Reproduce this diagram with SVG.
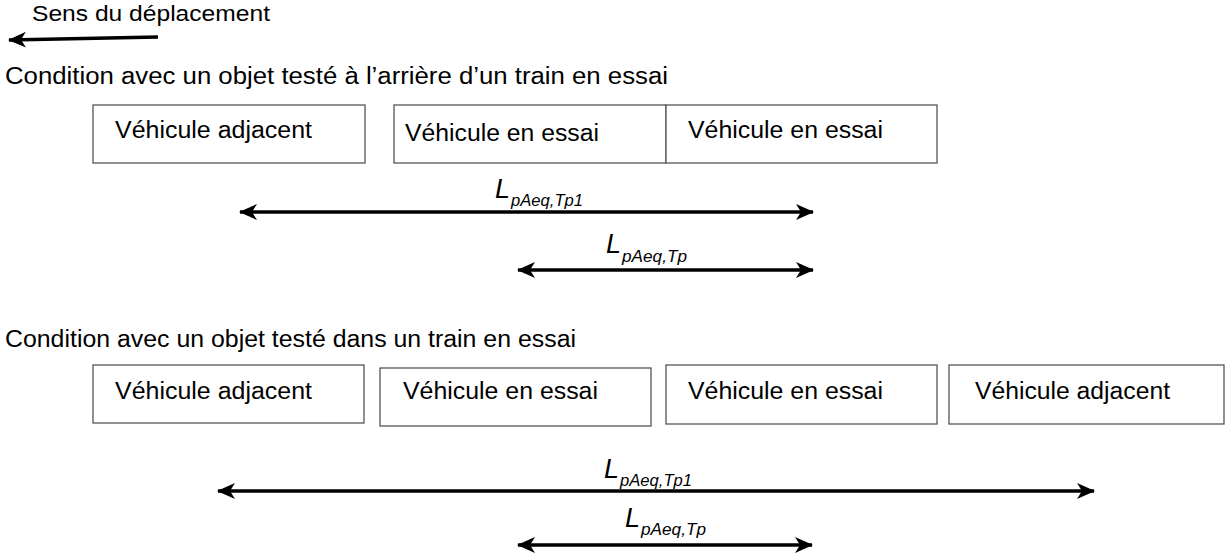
<svg xmlns="http://www.w3.org/2000/svg" width="1231" height="557" viewBox="0 0 1231 557">
<style>
text{font-family:"Liberation Sans",Arial,sans-serif;fill:#000}
.h{font-size:23px}
.b{font-size:23px}
.L{font-size:27px;font-style:italic}
.s{font-size:16px;font-style:italic}
rect{fill:#fff;stroke:#555;stroke-width:1.3}
.ar{stroke:#000;stroke-width:3.5;fill:none}
</style>
<defs>
<marker id="ah" markerUnits="userSpaceOnUse" markerWidth="20" markerHeight="20" refX="17" refY="10" orient="auto-start-reverse">
<path d="M0,2 L18,10 L0,18 L5,10 Z" fill="#000"/>
</marker>
</defs>
<rect x="0" y="0" width="1231" height="557" style="fill:#fff;stroke:none"/>
<text x="32" y="21" style="font-size:22px" textLength="238" lengthAdjust="spacingAndGlyphs">Sens du déplacement</text>
<text class="h" x="5" y="84" textLength="663" lengthAdjust="spacingAndGlyphs">Condition avec un objet testé à l’arrière d’un train en essai</text>
<text class="h" x="5" y="347" textLength="571" lengthAdjust="spacingAndGlyphs">Condition avec un objet testé dans un train en essai</text>
<g id="r1v1"><rect x="93" y="105" width="272" height="58"/><text class="b" x="115" y="138" textLength="197" lengthAdjust="spacingAndGlyphs">Véhicule adjacent</text></g>
<g id="r1v2"><rect x="394" y="105" width="272" height="58"/><text class="b" x="405" y="141" textLength="194" lengthAdjust="spacingAndGlyphs">Véhicule en essai</text></g>
<g id="r1v3"><rect x="666" y="105" width="271" height="58"/><text class="b" x="688" y="138" textLength="195" lengthAdjust="spacingAndGlyphs">Véhicule en essai</text></g>
<g id="r2v1"><rect x="93" y="365" width="271" height="58"/><text class="b" x="115" y="399" textLength="197" lengthAdjust="spacingAndGlyphs">Véhicule adjacent</text></g>
<g id="r2v2"><rect x="380" y="368" width="271" height="58"/><text class="b" x="403" y="399" textLength="195" lengthAdjust="spacingAndGlyphs">Véhicule en essai</text></g>
<g id="r2v3"><rect x="666" y="365" width="271" height="59"/><text class="b" x="688" y="399" textLength="195" lengthAdjust="spacingAndGlyphs">Véhicule en essai</text></g>
<g id="r2v4"><rect x="949" y="365" width="275" height="59"/><text class="b" x="975" y="399" textLength="195" lengthAdjust="spacingAndGlyphs">Véhicule adjacent</text></g>
<g id="connectors">
<path class="ar" d="M158,37 L9,40" marker-end="url(#ah)"/>
<path class="ar" d="M240,212 L813,212" marker-start="url(#ah)" marker-end="url(#ah)"/>
<path class="ar" d="M518,270 L813,270" marker-start="url(#ah)" marker-end="url(#ah)"/>
<path class="ar" d="M218,491 L1094,491" marker-start="url(#ah)" marker-end="url(#ah)"/>
<path class="ar" d="M518,545 L812,545" marker-start="url(#ah)" marker-end="url(#ah)"/>
</g>
<g id="lab1"><text class="L" x="495" y="198">L</text><text class="s" x="511" y="206" textLength="72" lengthAdjust="spacingAndGlyphs">pAeq,Tp1</text></g>
<g id="lab2"><text class="L" x="606" y="253">L</text><text class="s" x="622" y="262" textLength="65" lengthAdjust="spacingAndGlyphs">pAeq,Tp</text></g>
<g id="lab3"><text class="L" x="604" y="478">L</text><text class="s" x="620" y="486" textLength="72" lengthAdjust="spacingAndGlyphs">pAeq,Tp1</text></g>
<g id="lab4"><text class="L" x="625" y="527">L</text><text class="s" x="641" y="535" textLength="65" lengthAdjust="spacingAndGlyphs">pAeq,Tp</text></g>
</svg>
